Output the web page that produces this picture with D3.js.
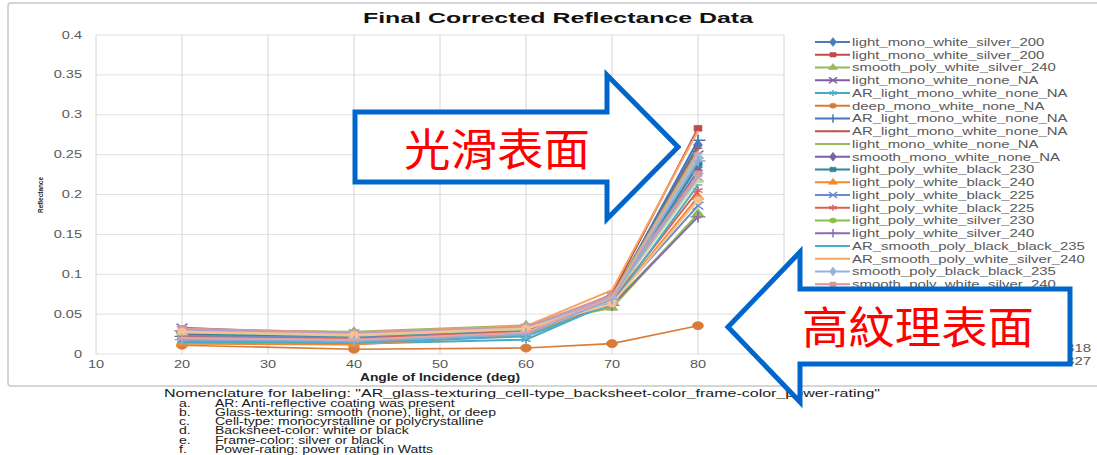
<!DOCTYPE html>
<html>
<head>
<meta charset="utf-8">
<script src="https://cdn.jsdelivr.net/npm/d3@7"></script>
<style>
  body { margin: 0; background: #fff; }
  svg { display: block; }
</style>
</head>
<body>
<svg width="1097" height="455"></svg>
<script>
// ---- data ----
var angles = [20, 40, 60, 70, 80];
var xTicks = [10, 20, 30, 40, 50, 60, 70, 80, 90];
var yTicks = [0, 0.05, 0.1, 0.15, 0.2, 0.25, 0.3, 0.35, 0.4];
var yTickLabels = ["0", "0.05", "0.1", "0.15", "0.2", "0.25", "0.3", "0.35", "0.4"];

// legend names that can be read (the rest of the legend sits under the callout arrow)
var seriesNames = [
  "light_mono_white_silver_200",
  "light_mono_white_silver_200",
  "smooth_poly_white_silver_240",
  "light_mono_white_none_NA",
  "AR_light_mono_white_none_NA",
  "deep_mono_white_none_NA",
  "AR_light_mono_white_none_NA",
  "AR_light_mono_white_none_NA",
  "light_mono_white_none_NA",
  "smooth_mono_white_none_NA",
  "light_poly_white_black_230",
  "light_poly_white_black_240",
  "light_poly_white_black_225",
  "light_poly_white_black_225",
  "light_poly_white_silver_230",
  "light_poly_white_silver_240",
  "AR_smooth_poly_black_black_235",
  "AR_smooth_poly_white_silver_240",
  "smooth_poly_black_black_235",
  "smooth_poly_white_silver_240"
];
// only the tails of the last two legend entries show right of the arrow
var hiddenTails = [[24, "318"], [25, "327"]];

// reflectance at 20, 40, 60, 70, 80 deg
var seriesValues = [
  [0.025, 0.022, 0.030, 0.072, 0.262],
  [0.017, 0.015, 0.027, 0.075, 0.283],
  [0.030, 0.028, 0.036, 0.058, 0.176],
  [0.033, 0.024, 0.030, 0.068, 0.250],
  [0.016, 0.013, 0.018, 0.065, 0.236],
  [0.011, 0.006, 0.0075, 0.013, 0.0355],
  [0.022, 0.019, 0.027, 0.070, 0.268],
  [0.020, 0.018, 0.026, 0.071, 0.258],
  [0.027, 0.024, 0.031, 0.073, 0.255],
  [0.024, 0.022, 0.032, 0.066, 0.230],
  [0.026, 0.021, 0.030, 0.068, 0.238],
  [0.013, 0.012, 0.024, 0.064, 0.197],
  [0.023, 0.020, 0.028, 0.066, 0.186],
  [0.021, 0.019, 0.028, 0.067, 0.205],
  [0.028, 0.026, 0.034, 0.062, 0.174],
  [0.029, 0.025, 0.033, 0.061, 0.172],
  [0.015, 0.014, 0.022, 0.063, 0.212],
  [0.031, 0.027, 0.035, 0.080, 0.280],
  [0.029, 0.025, 0.033, 0.070, 0.245],
  [0.032, 0.027, 0.034, 0.074, 0.226],
  [0.027, 0.023, 0.031, 0.069, 0.218],
  [0.030, 0.026, 0.033, 0.072, 0.222],
  [0.019, 0.017, 0.026, 0.067, 0.248],
  [0.028, 0.024, 0.032, 0.063, 0.193],
  [0.018, 0.016, 0.025, 0.069, 0.242],
  [0.020, 0.018, 0.027, 0.071, 0.252]
];

var nomenTitle = "Nomenclature for labeling:  \"AR_glass-texturing_cell-type_backsheet-color_frame-color_power-rating\"";
var nomenKeys = ["a.", "b.", "c.", "d.", "e.", "f."];
var nomenTexts = [
  "AR:  Anti-reflective coating was present",
  "Glass-texturing:  smooth (none), light, or deep",
  "Cell-type:  monocyrstalline or polycrystalline",
  "Backsheet-color:  white or black",
  "Frame-color: silver or black",
  "Power-rating:  power rating in Watts"
];

// ---- styles ----
var seriesColors = [
  "#4a7ebb", "#be4b48", "#98b954", "#7d60a0", "#46aac5", "#d97b38",
  "#4576b8", "#c0504d", "#9bbb59", "#7d60a0", "#31859c", "#f08a2e",
  "#6a8cc9", "#d9605c", "#8cc04a", "#8c6bb1", "#4bacc6", "#f9a461",
  "#95b3d7", "#d99694", "#c3d69b", "#b3a2c7", "#93cddd", "#fac090",
  "#8eaad6", "#e2a6a4"
];
var markerCycle = ["diamond", "square", "triangle", "times", "asterisk", "circle", "plus", "dash", "none"];

var svg = d3.select("svg");

var x = d3.scaleLinear().domain([10, 90]).range([96, 784]);
var y = d3.scaleLinear().domain([0, 0.4]).range([354, 35]);

function widen(sel, k) {
  sel.each(function () {
    var w = this.getComputedTextLength();
    d3.select(this).attr("textLength", w * k).attr("lengthAdjust", "spacingAndGlyphs");
  });
}
function fitTo(sel, w) {
  sel.attr("textLength", w).attr("lengthAdjust", "spacingAndGlyphs");
}

function markerPath(type, s) {
  if (type === "diamond") return d3.symbol(d3.symbolDiamond, s * s * 0.9)();
  if (type === "square") return d3.symbol(d3.symbolSquare, s * s * 0.8)();
  if (type === "triangle") return d3.symbol(d3.symbolTriangle, s * s * 0.8)();
  if (type === "circle") return d3.symbol(d3.symbolCircle, s * s * 0.8)();
  if (type === "times") return d3.symbol(d3.symbolTimes, s * s)();
  if (type === "plus") return d3.symbol(d3.symbolPlus, s * s)();
  if (type === "asterisk") return d3.symbol(d3.symbolAsterisk, s * s)();
  if (type === "dash") return "M" + (-s / 2) + ",0H" + (s / 2);
  return null;
}
var strokeMarkers = ["times", "plus", "asterisk", "dash"];

// outer chart frame
svg.append("rect")
  .attr("x", 8).attr("y", 3).attr("width", 1100).attr("height", 383)
  .attr("rx", 3)
  .attr("fill", "#fff").attr("stroke", "#c8c8c8").attr("stroke-width", 1.5);

// title
svg.append("text")
  .attr("x", 558).attr("y", 23)
  .attr("text-anchor", "middle")
  .attr("font-family", "Liberation Sans, Arial, sans-serif")
  .attr("font-weight", "bold").attr("font-size", 15)
  .attr("fill", "#111")
  .text("Final Corrected Reflectance Data")
  .call(fitTo, 390);

// gridlines
svg.append("g").selectAll("line").data(yTicks).enter().append("line")
  .attr("x1", x(10)).attr("x2", x(90))
  .attr("y1", function (d) { return y(d); }).attr("y2", function (d) { return y(d); })
  .attr("stroke", "#e0e0e0").attr("stroke-width", 1);
svg.append("g").selectAll("line").data(xTicks).enter().append("line")
  .attr("x1", function (d) { return x(d); }).attr("x2", function (d) { return x(d); })
  .attr("y1", y(0)).attr("y2", y(0.4))
  .attr("stroke", "#d4d4d4").attr("stroke-width", 1);

// tick labels
svg.append("g").selectAll("text").data(yTicks).enter().append("text")
  .attr("x", 82).attr("y", function (d) { return y(d) + 3.5; })
  .attr("text-anchor", "end")
  .attr("font-family", "Liberation Sans, Arial, sans-serif")
  .attr("font-size", 10).attr("fill", "#595959")
  .text(function (d, i) { return yTickLabels[i]; })
  .call(widen, 1.45);
svg.append("g").selectAll("text").data(xTicks).enter().append("text")
  .attr("x", function (d) { return x(d); }).attr("y", 368)
  .attr("text-anchor", "middle")
  .attr("font-family", "Liberation Sans, Arial, sans-serif")
  .attr("font-size", 10).attr("fill", "#595959")
  .text(function (d) { return d; })
  .call(widen, 1.45);

// axis titles
svg.append("text")
  .attr("x", 440).attr("y", 381)
  .attr("text-anchor", "middle")
  .attr("font-family", "Liberation Sans, Arial, sans-serif")
  .attr("font-weight", "bold").attr("font-size", 10).attr("fill", "#222")
  .text("Angle of Incidence (deg)")
  .call(fitTo, 160);
svg.append("text")
  .attr("transform", "translate(43,195) rotate(-90)")
  .attr("text-anchor", "middle")
  .attr("font-family", "Liberation Sans Narrow, Arial Narrow, sans-serif")
  .attr("font-weight", "bold").attr("font-size", 8).attr("fill", "#222")
  .text("Reflectance")
  .call(fitTo, 36);

// series
var line = d3.line()
  .x(function (d, i) { return x(angles[i]); })
  .y(function (d) { return y(d); });

var series = svg.append("g").selectAll("g").data(seriesValues).enter().append("g");
series.append("path")
  .attr("d", line)
  .attr("fill", "none")
  .attr("stroke", function (d, i) { return seriesColors[i]; })
  .attr("stroke-width", function (d, i) { return i === 5 ? 1.6 : 2; });
series.each(function (vals, i) {
  var type = markerCycle[i % markerCycle.length];
  var p = markerPath(type, i === 5 ? 8 : 6.5);
  if (!p) return;
  var isStroke = strokeMarkers.indexOf(type) >= 0;
  d3.select(this).selectAll("path.m").data(vals).enter().append("path")
    .attr("class", "m")
    .attr("d", p)
    .attr("transform", function (d, j) { return "translate(" + x(angles[j]) + "," + y(d) + ") scale(1.35,1)"; })
    .attr("fill", isStroke ? "none" : seriesColors[i])
    .attr("stroke", seriesColors[i])
    .attr("stroke-width", isStroke ? 1.3 : 0.6);
});

// legend
var legend = svg.append("g").selectAll("g").data(seriesNames).enter().append("g")
  .attr("transform", function (d, i) { return "translate(815," + (42 + i * 12.75) + ")"; });
legend.append("line")
  .attr("x1", 0).attr("x2", 35).attr("y1", 0).attr("y2", 0)
  .attr("stroke", function (d, i) { return seriesColors[i]; })
  .attr("stroke-width", 2);
legend.each(function (d, i) {
  var type = markerCycle[i % markerCycle.length];
  var p = markerPath(type, 5);
  if (!p) return;
  var isStroke = strokeMarkers.indexOf(type) >= 0;
  d3.select(this).append("path")
    .attr("d", p)
    .attr("transform", "translate(18,0) scale(1.35,1)")
    .attr("fill", isStroke ? "none" : seriesColors[i])
    .attr("stroke", seriesColors[i])
    .attr("stroke-width", isStroke ? 1.1 : 0.5);
});
legend.append("text")
  .attr("x", 37).attr("y", 3.8)
  .attr("font-family", "Liberation Sans, Arial, sans-serif")
  .attr("font-size", 10.5).attr("fill", "#595959")
  .text(function (d) { return d; })
  .call(widen, 1.42);

// tails of the legend entries that peek out right of the lower arrow
svg.append("g").selectAll("text").data(hiddenTails).enter().append("text")
  .attr("x", 1091).attr("y", function (d) { return 42 + d[0] * 12.75 + 3.8; })
  .attr("text-anchor", "end")
  .attr("font-family", "Liberation Sans, Arial, sans-serif")
  .attr("font-size", 10.5).attr("fill", "#595959")
  .text(function (d) { return d[1]; })
  .call(widen, 1.42);

// nomenclature notes under the chart
var notes = svg.append("g")
  .attr("font-family", "Liberation Sans, Arial, sans-serif")
  .attr("font-size", 10).attr("fill", "#1a1a1a");
notes.append("text").attr("x", 164).attr("y", 397).text(nomenTitle).call(fitTo, 716);
nomenKeys.forEach(function (k, i) {
  var yy = 406.5 + i * 9.3;
  notes.append("text").attr("x", 179).attr("y", yy).text(k).call(widen, 1.4);
  notes.append("text").attr("x", 215).attr("y", yy).text(nomenTexts[i]).call(widen, 1.4);
});

// callout arrows
var arrowRight = [[355, 112], [607, 112], [607, 75], [678, 147], [607, 219], [607, 182], [355, 182]];
var arrowLeft = [[728, 327], [800, 252], [800, 289], [1070, 289], [1070, 364], [800, 364], [800, 402]];
svg.selectAll("path.arrow").data([arrowRight, arrowLeft]).enter().append("path")
  .attr("class", "arrow")
  .attr("d", function (d) { return d3.line()(d) + "Z"; })
  .attr("fill", "#fff")
  .attr("stroke", "#0066cc").attr("stroke-width", 5)
  .attr("stroke-linejoin", "miter");

svg.append("text")
  .attr("x", 497).attr("y", 166)
  .attr("text-anchor", "middle")
  .attr("font-family", "Noto Sans CJK TC, sans-serif")
  .attr("font-size", 44).attr("fill", "#ff0000")
  .text("光滑表面")
  .call(fitTo, 186);
svg.append("text")
  .attr("x", 918).attr("y", 344)
  .attr("text-anchor", "middle")
  .attr("font-family", "Noto Sans CJK TC, sans-serif")
  .attr("font-size", 44).attr("fill", "#ff0000")
  .text("高紋理表面")
  .call(fitTo, 232);
</script>
</body>
</html>
